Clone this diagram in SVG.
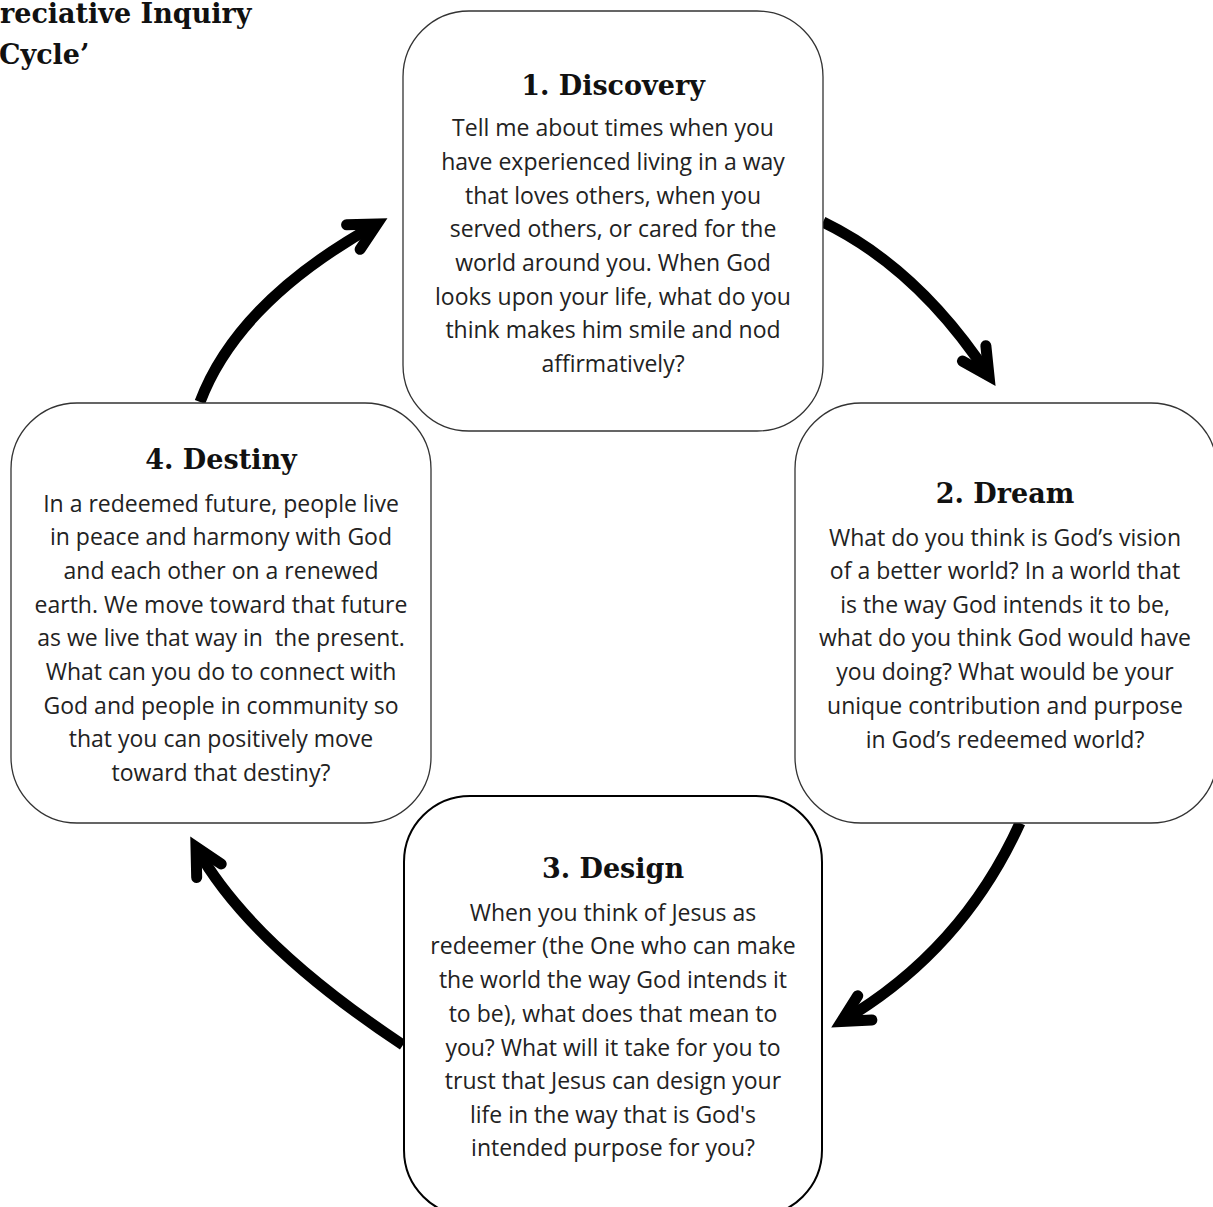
<svg xmlns="http://www.w3.org/2000/svg" width="1213" height="1207" viewBox="0 0 1213 1207">
<defs>
<style>
.box{fill:#fff;stroke:#333;stroke-width:1.3}
.box.thick{stroke:#000;stroke-width:2}
.head{font-family:"DejaVu Serif","Liberation Serif",serif;font-weight:bold;font-size:27px;fill:#111;text-anchor:middle}
.title{font-family:"DejaVu Serif","Liberation Serif",serif;font-weight:bold;font-size:27px;fill:#111}
.body{font-family:"Open Sans","Noto Sans","Liberation Sans",sans-serif;font-size:23px;fill:#222;text-anchor:middle}
.arrow{fill:none;stroke:#000;stroke-width:11;stroke-linecap:butt}
</style>
<marker id="chev" markerUnits="userSpaceOnUse" markerWidth="80" markerHeight="80" viewBox="-40 -40 80 80" refX="0" refY="0" orient="auto" overflow="visible">
<path d="M-27,-14 L0,0 L-27,14" fill="none" stroke="#000" stroke-width="11" stroke-linecap="round" stroke-linejoin="miter"/>
</marker>
</defs>
<rect width="1213" height="1207" fill="#fff"/>
<g id="title">
<text class="title" x="0" y="23">reciative Inquiry</text>
<text class="title" x="-1" y="64">Cycle’</text>
</g>
<g id="connectors">
<path class="arrow" d="M823,222 Q918,268 989,376" marker-end="url(#chev)"/>
<path class="arrow" d="M1020,823 Q962,951 841.5,1021.5" marker-end="url(#chev)"/>
<path class="arrow" d="M403,1045 Q248,942 196,847" marker-end="url(#chev)"/>
<path class="arrow" d="M200,402 Q238,301 377,224" marker-end="url(#chev)"/>
</g>
<g id="node-discovery">
<rect class="box" x="403" y="11" width="420" height="420" rx="66"/>
<text class="head" x="613" y="95">1. Discovery</text>
<text class="body" x="613" y="136">Tell me about times when you</text>
<text class="body" x="613" y="170">have experienced living in a way</text>
<text class="body" x="613" y="204">that loves others, when you</text>
<text class="body" x="613" y="237">served others, or cared for the</text>
<text class="body" x="613" y="271">world around you. When God</text>
<text class="body" x="613" y="305">looks upon your life, what do you</text>
<text class="body" x="613" y="338">think makes him smile and nod</text>
<text class="body" x="613" y="372">affirmatively?</text>
</g>
<g id="node-dream">
<rect class="box" x="795" y="403" width="422" height="420" rx="66"/>
<text class="head" x="1005" y="503">2. Dream</text>
<text class="body" x="1005" y="546">What do you think is God’s vision</text>
<text class="body" x="1005" y="579">of a better world? In a world that</text>
<text class="body" x="1005" y="613">is the way God intends it to be,</text>
<text class="body" x="1005" y="646">what do you think God would have</text>
<text class="body" x="1005" y="680">you doing? What would be your</text>
<text class="body" x="1005" y="714">unique contribution and purpose</text>
<text class="body" x="1005" y="748">in God’s redeemed world?</text>
</g>
<g id="node-design">
<rect class="box thick" x="404" y="796" width="418" height="420" rx="66"/>
<text class="head" x="613" y="878">3. Design</text>
<text class="body" x="613" y="921">When you think of Jesus as</text>
<text class="body" x="613" y="954">redeemer (the One who can make</text>
<text class="body" x="613" y="988">the world the way God intends it</text>
<text class="body" x="613" y="1022">to be), what does that mean to</text>
<text class="body" x="613" y="1056">you? What will it take for you to</text>
<text class="body" x="613" y="1089">trust that Jesus can design your</text>
<text class="body" x="613" y="1123">life in the way that is God's</text>
<text class="body" x="613" y="1156">intended purpose for you?</text>
</g>
<g id="node-destiny">
<rect class="box" x="11" y="403" width="420" height="420" rx="66"/>
<text class="head" x="221" y="469">4. Destiny</text>
<text class="body" x="221" y="512">In a redeemed future, people live</text>
<text class="body" x="221" y="545">in peace and harmony with God</text>
<text class="body" x="221" y="579">and each other on a renewed</text>
<text class="body" x="221" y="613">earth. We move toward that future</text>
<text class="body" x="221" y="646" xml:space="preserve">as we live that way in  the present.</text>
<text class="body" x="221" y="680">What can you do to connect with</text>
<text class="body" x="221" y="714">God and people in community so</text>
<text class="body" x="221" y="747">that you can positively move</text>
<text class="body" x="221" y="781">toward that destiny?</text>
</g>
</svg>
